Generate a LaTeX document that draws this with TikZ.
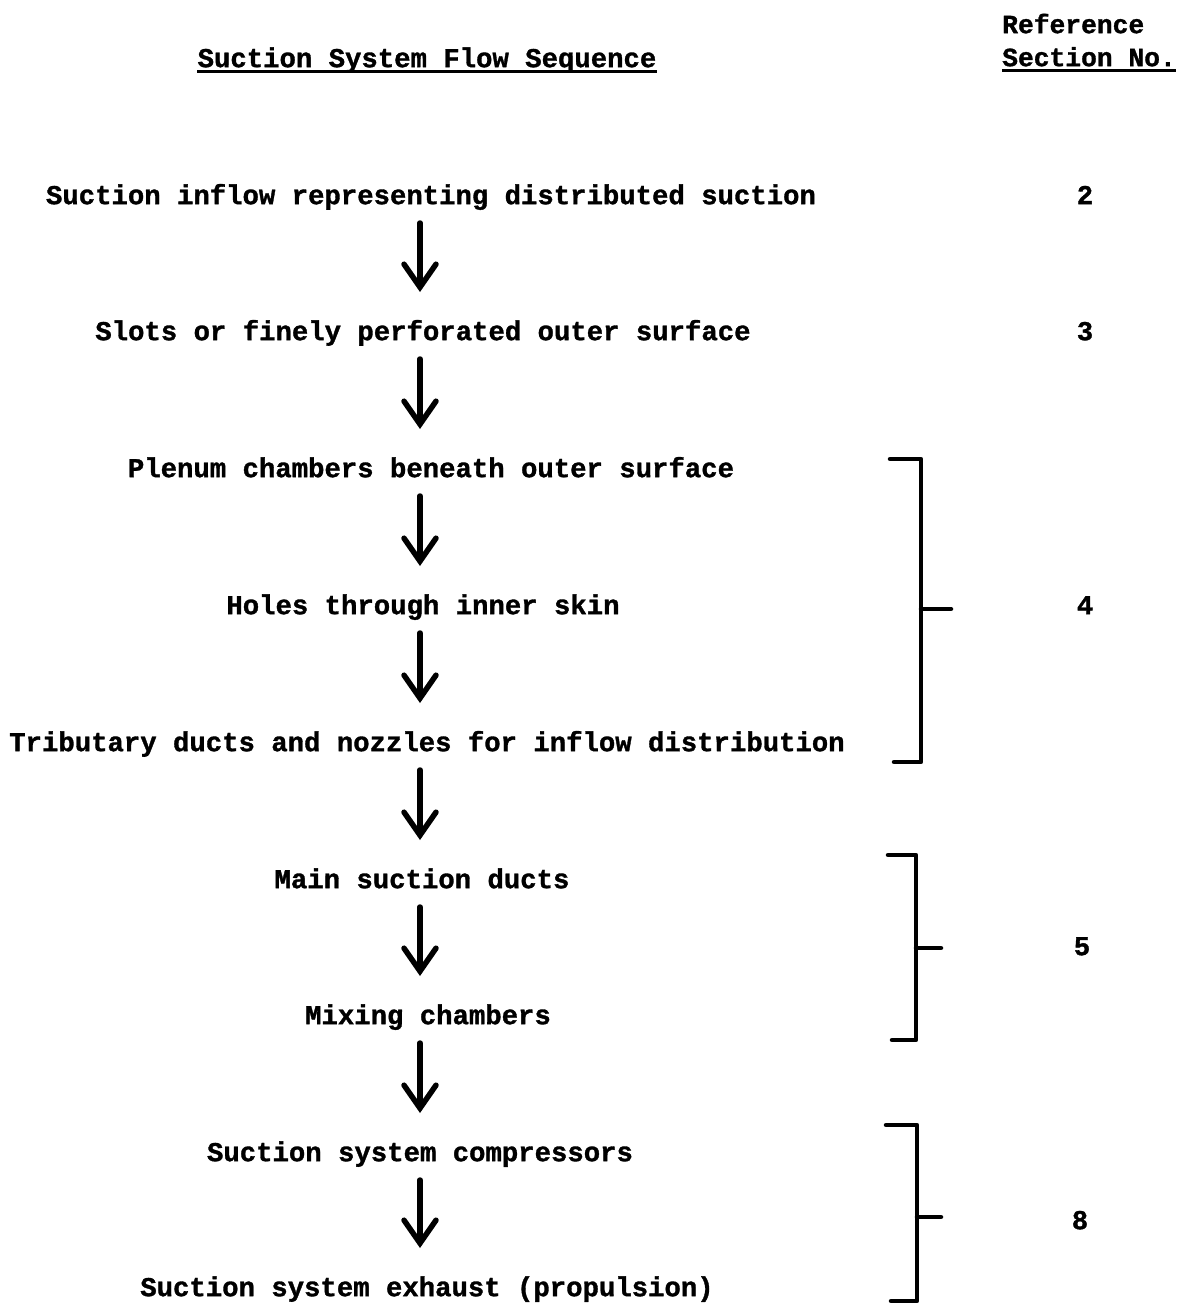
\documentclass[tikz,border=0pt]{standalone}
\usepackage{fontspec}
\newfontfamily\tw{Liberation Mono}[BoldFeatures={FakeBold=1.2}]
\usetikzlibrary{arrows.meta}
\begin{document}
\begin{tikzpicture}[x=1pt,y=-1pt,
  txt/.style={font=\tw\bfseries\fontsize{27.3}{30}\selectfont, inner sep=0pt, anchor=mid},
  hdr/.style={font=\tw\bfseries\fontsize{26.3}{30}\selectfont, inner sep=0pt, anchor=mid west},
  flowarrow/.style={line width=5.5pt, line cap=round, -{Straight Barb[length=23pt,width=32pt,line cap=round]}},
  brk/.style={line width=4.5pt, line cap=round, line join=round},
  ul/.style={line width=2.8pt}]
\useasboundingbox (0,0) rectangle (1179,1304);
% headings
\node[txt] (title) at (427,65) {Suction System Flow Sequence};
\node[hdr] (refa) at (1002,31) {Reference};
\node[hdr] (refb) at (1002,64) {Section No.};
\draw[ul] ([yshift=-4pt]title.base west) -- ([yshift=-4pt]title.base east);
\draw[ul] ([yshift=-4pt]refb.base west) -- ([yshift=-4pt]refb.base east);
% rows
\node[txt] (r1) at (431,202) {Suction inflow representing distributed suction};
\node[txt] (r2) at (423,338) {Slots or finely perforated outer surface};
\node[txt] (r3) at (431,475) {Plenum chambers beneath outer surface};
\node[txt] (r4) at (423,612) {Holes through inner skin};
\node[txt] (r5) at (427,749) {Tributary ducts and nozzles for inflow distribution};
\node[txt] (r6) at (422,886) {Main suction ducts};
\node[txt] (r7) at (428,1022) {Mixing chambers};
\node[txt] (r8) at (420,1159) {Suction system compressors};
\node[txt] (r9) at (427,1294) {Suction system exhaust (propulsion)};
% arrows
\coordinate (ax) at (420,0);
\foreach \a/\b in {r1/r2,r2/r3,r3/r4,r4/r5,r5/r6,r6/r7,r7/r8,r8/r9}{
  \draw[flowarrow] ([yshift=-21pt]\a.mid -| ax) -- ([yshift=46pt]\b.mid -| ax);
}
% section numbers
\node[txt] (n2) at (1085,202) {2};
\node[txt] (n3) at (1085,338) {3};
\node[txt] (n4) at (1085,612) {4};
\node[txt] (n5) at (1082,953) {5};
\node[txt] (n8) at (1080,1227) {8};
% brackets
\coordinate (b1a) at (890,459); \coordinate (b1b) at (921,459);
\coordinate (b1c) at (921,762); \coordinate (b1d) at (894,762);
\coordinate (b1m) at (921,609); \coordinate (b1t) at (951,609);
\draw[brk] (b1a) -- (b1b) -- (b1c) -- (b1d);
\draw[brk] (b1m) -- (b1t);
\coordinate (b2a) at (888,855); \coordinate (b2b) at (916,855);
\coordinate (b2c) at (916,1040); \coordinate (b2d) at (892,1040);
\coordinate (b2m) at (916,948); \coordinate (b2t) at (941,948);
\draw[brk] (b2a) -- (b2b) -- (b2c) -- (b2d);
\draw[brk] (b2m) -- (b2t);
\coordinate (b3a) at (886,1125); \coordinate (b3b) at (917,1125);
\coordinate (b3c) at (917,1301); \coordinate (b3d) at (891,1301);
\coordinate (b3m) at (917,1217); \coordinate (b3t) at (941,1217);
\draw[brk] (b3a) -- (b3b) -- (b3c) -- (b3d);
\draw[brk] (b3m) -- (b3t);
\end{tikzpicture}
\end{document}
